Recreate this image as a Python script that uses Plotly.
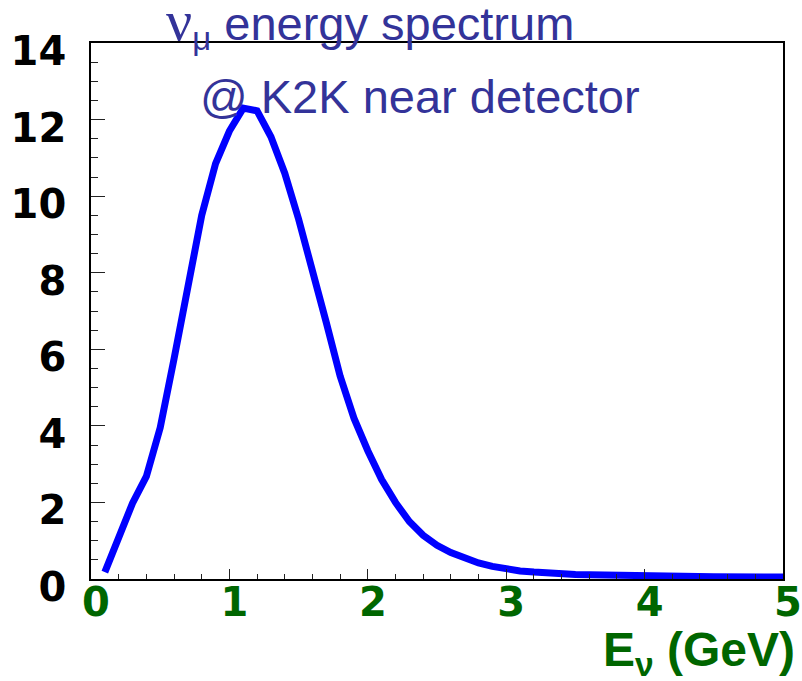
import plotly.graph_objects as go

# Neutrino energy (GeV) and flux values
energy = [0.1, 0.2, 0.3, 0.4, 0.5, 0.6, 0.7, 0.8, 0.9, 1.0,
          1.1, 1.2, 1.3, 1.4, 1.5, 1.6, 1.7, 1.8, 1.9, 2.0,
          2.1, 2.2, 2.3, 2.4, 2.5, 2.6, 2.7, 2.8, 2.9, 3.0,
          3.1, 3.2, 3.3, 3.4, 3.5, 3.6, 3.8, 4.0, 4.5, 5.0]
flux = [0.18, 1.05, 1.98, 2.68, 3.95, 5.75, 7.6, 9.5, 10.85, 11.7,
        12.3, 12.23, 11.55, 10.6, 9.4, 8.1, 6.7, 5.3, 4.2, 3.35,
        2.6, 2.0, 1.5, 1.14, 0.88, 0.69, 0.54, 0.42, 0.33, 0.26,
        0.21, 0.18, 0.15, 0.13, 0.12, 0.11, 0.09, 0.08, 0.06, 0.05]

x_ticks = [0, 1, 2, 3, 4, 5]
y_ticks = [0, 2, 4, 6, 8, 10, 12, 14]

title_line1 = ("<span style=\"font-family:'Liberation Serif';font-size:58px\">ν</span>"
               "<sub>μ</sub> energy spectrum")
title_line2 = "@ K2K near detector"
x_title = "E<sub>ν</sub> (GeV)"

fig = go.Figure()
fig.add_trace(go.Scatter(
    x=energy, y=flux, mode="lines",
    line=dict(color="#0000FF", width=7),
    showlegend=False, hoverinfo="skip",
))

fig.update_xaxes(
    range=[0, 5], tickvals=x_ticks, ticktext=[str(v) for v in x_ticks],
    showline=True, mirror=True, linecolor="black", linewidth=1.5,
    ticks="inside", ticklen=10, tickwidth=1.2, tickcolor="#222",
    minor=dict(dtick=0.2, ticks="inside", ticklen=5, tickwidth=1.2, tickcolor="#222", showgrid=False),
    showgrid=False, zeroline=False, automargin=False,
    tickfont=dict(family="DejaVu Sans", size=40, color="#006600", weight="bold"),
    ticklabelshift=5, ticklabelstandoff=-13,
)
fig.update_yaxes(
    range=[0, 14], tickvals=y_ticks, ticktext=[str(v) for v in y_ticks],
    showline=True, mirror=True, linecolor="black", linewidth=1.5,
    ticks="inside", ticklen=14, tickwidth=1.2, tickcolor="#222",
    minor=dict(dtick=0.5, ticks="inside", ticklen=7, tickwidth=1.2, tickcolor="#222", showgrid=False),
    showgrid=False, zeroline=False, automargin=False,
    tickfont=dict(family="DejaVu Sans", size=40, color="black", weight="bold"),
    ticklabelshift=8, ticklabelstandoff=15,
)

fig.add_annotation(
    text=title_line1, xref="paper", yref="paper", x=0.106, y=1.039,
    xanchor="left", yanchor="middle", showarrow=False,
    font=dict(family="Liberation Sans", size=47, color="rgb(51,51,153)"),
)
fig.add_annotation(
    text=title_line2, xref="paper", yref="paper", x=0.155, y=0.901,
    xanchor="left", yanchor="middle", showarrow=False,
    font=dict(family="Liberation Sans", size=47, color="rgb(51,51,153)"),
)
fig.add_annotation(
    text=x_title, xref="paper", yref="paper", x=1.0202, y=-0.138,
    xanchor="right", yanchor="middle", showarrow=False,
    font=dict(family="Liberation Sans", size=48, color="#006600", weight="bold"),
)

fig.update_layout(
    width=802, height=681,
    margin=dict(l=91, r=19, t=43, b=102),
    plot_bgcolor="white", paper_bgcolor="white",
)

fig.write_html("out.html")
